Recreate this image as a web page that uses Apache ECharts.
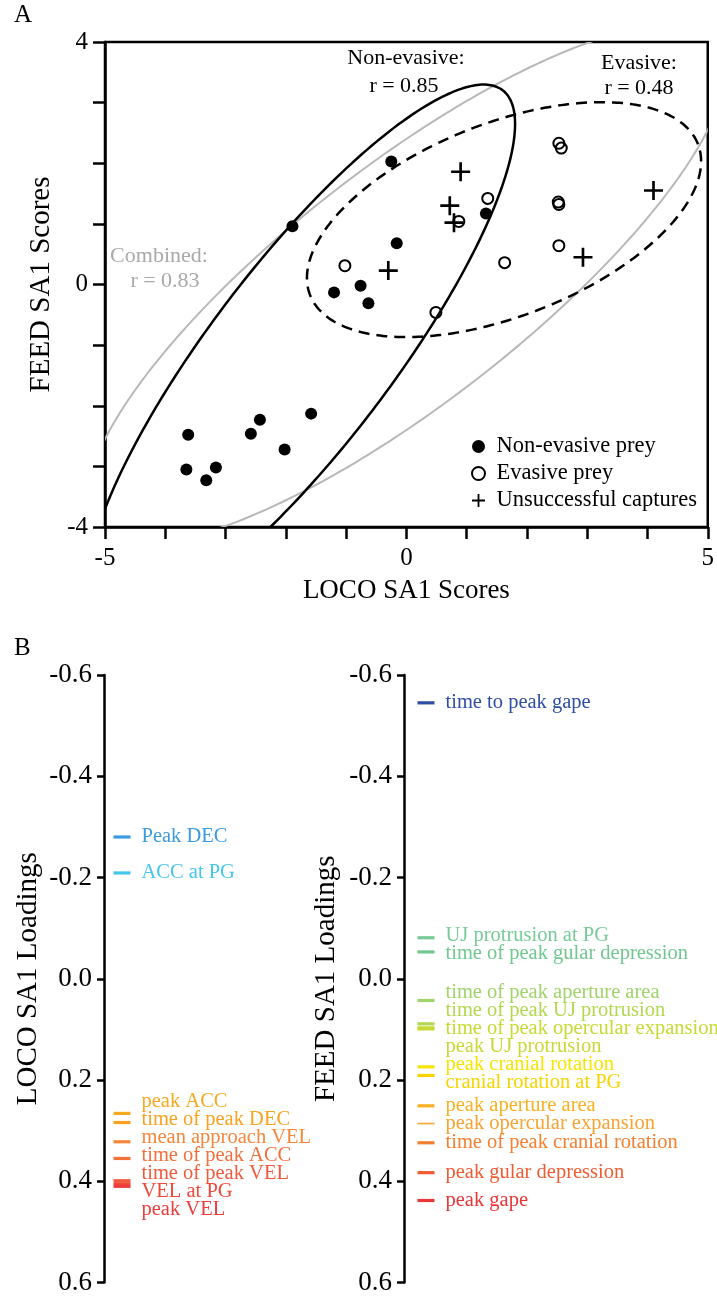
<!DOCTYPE html>
<html>
<head>
<meta charset="utf-8">
<script src="https://cdn.jsdelivr.net/npm/echarts@6/dist/echarts.min.js"></script>
<style>
  html, body { margin: 0; padding: 0; background: #fff; }
  #chart { width: 717px; height: 1296px; }
</style>
</head>
<body>
<div id="chart"></div>
<script>
// ---- Panel A: SA1 scores (LOCO vs FEED) ----
const nonEvasivePrey = [
  [-1.89, 0.96], [-0.25, 2.03], [-0.16, 0.68], [-1.20, -0.13], [-0.76, -0.02],
  [-0.63, -0.31], [-3.62, -2.48], [-3.65, -3.05], [-3.32, -3.23], [-3.16, -3.02],
  [-2.58, -2.46], [-2.43, -2.23], [-2.02, -2.72], [-1.58, -2.13], [1.32, 1.17]
];
const evasivePrey = [
  [-1.02, 0.31], [1.35, 1.42], [0.87, 1.04], [2.53, 2.33], [2.57, 2.25],
  [2.52, 1.36], [2.53, 1.32], [2.53, 0.64], [1.63, 0.36], [0.49, -0.46]
];
const unsuccessfulCaptures = [
  [-0.30, 0.23], [0.72, 1.30], [0.79, 1.02], [0.90, 1.86], [2.93, 0.45], [4.10, 1.55]
];

// Correlation ellipses: [centerX, centerY, semiMajor, semiMinor, angleDeg]
const ellipseCombined   = [0.00, 0.00, 6.52, 1.95, 37.7];
const ellipseNonEvasive = [-1.75, -1.16, 5.50, 1.50, 52.5];
const ellipseEvasive    = [1.62, 1.07, 3.45, 1.594, 21.1];

const scoreTicksX = [-5, 0, 5];
const scoreTicksY = [-4, 0, 4];

// ---- Panel B: SA1 loadings ----
const locoNames = ['Peak DEC', 'ACC at PG', 'peak ACC', 'time of peak DEC', 'mean approach VEL',
  'time of peak ACC', 'time of peak VEL', 'VEL at PG', 'peak VEL'];
const locoLoadings = [-0.280, -0.209, 0.266, 0.284, 0.322, 0.355, 0.399, 0.405, 0.410];

const feedNames = ['time to peak gape', 'UJ protrusion at PG', 'time of peak gular depression',
  'time of peak aperture area', 'time of peak UJ protrusion', 'time of peak opercular expansion',
  'peak UJ protrusion', 'peak cranial rotation', 'cranial rotation at PG', 'peak aperture area',
  'peak opercular expansion', 'time of peak cranial rotation', 'peak gular depression', 'peak gape'];
const feedLoadings = [-0.545, -0.081, -0.053, 0.043, 0.089, 0.097, 0.099, 0.174, 0.191,
  0.251, 0.286, 0.324, 0.383, 0.438];

// colour palettes for the loading labels
const locoColors = ['#3b9be0', '#45c6ef', '#f8a91f', '#f8a21f', '#f6873a', '#f3703b', '#f15a3c', '#ef4939', '#ee3c3c'];
const feedColors = ['#2f4ea3', '#76cb98', '#70c88f', '#a0d36a', '#b3d850', '#c5db33', '#cad836',
  '#f7e400', '#f7d400', '#f8b122', '#f8a232', '#f47f31', '#f15b31', '#ec3535'];

const SERIF = '"Liberation Serif", "Times New Roman", serif';
const PLUS = 'path://M8.6,0h2.8v8.6h8.6v2.8h-8.6v8.6h-2.8v-8.6h-8.6v-2.8h8.6z';

function ellipseSeries(name, params, style) {
  return {
    type: 'custom',
    name: name,
    xAxisIndex: 0,
    yAxisIndex: 0,
    silent: true,
    z: 1,
    data: [params],
    renderItem: function (p, api) {
      const cx = api.value(0), cy = api.value(1), a = api.value(2), b = api.value(3);
      const ang = api.value(4) * Math.PI / 180;
      const pts = [];
      for (let k = 0; k < 360; k++) {
        const t = k * Math.PI / 180;
        const u = a * Math.cos(t), v = b * Math.sin(t);
        pts.push(api.coord([cx + u * Math.cos(ang) - v * Math.sin(ang),
                            cy + u * Math.sin(ang) + v * Math.cos(ang)]));
      }
      const cs = p.coordSys;
      return {
        type: 'group',
        clipPath: { type: 'rect', shape: { x: cs.x, y: cs.y, width: cs.width, height: cs.height } },
        children: [{ type: 'polygon', shape: { points: pts }, style: Object.assign({ fill: 'none' }, style) }]
      };
    }
  };
}

function loadingSeries(idx, names, values, colors, offsetX, labelOffsets) {
  return {
    type: 'scatter',
    xAxisIndex: idx,
    yAxisIndex: idx,
    symbol: 'rect',
    symbolOffset: [offsetX, 0],
    silent: true,
    animation: false,
    itemStyle: { opacity: 1 },
    data: names.map(function (n, i) {
      return {
        name: n,
        value: [0, values[i]],
        symbolSize: n === 'peak opercular expansion' ? [17, 1.6] : [17, 3.2],
        itemStyle: { color: colors[i], opacity: 1 },
        label: { color: colors[i], offset: [0, labelOffsets ? labelOffsets[i] : 0] }
      };
    }),
    label: {
      show: true,
      position: 'right',
      distance: 11,
      formatter: '{b}',
      fontFamily: SERIF,
      fontSize: 20.5,
      lineHeight: 18
    }
  };
}

const axisBlack = { onZero: false, lineStyle: { color: '#000', width: 2.5 } };
const tickFmtScore = function (ticks) {
  return function (v) { return ticks.indexOf(Math.round(v)) >= 0 && Math.abs(v - Math.round(v)) < 1e-9 ? String(Math.round(v)) : ''; };
};
const tickFmtLoad = function (v) { return (Math.abs(v) < 1e-9 ? 0 : v).toFixed(1); };

function buildOption(locoOffsets, feedOffsets) {
  return {
    animation: false,
    backgroundColor: '#fff',
    textStyle: { fontFamily: SERIF },
    grid: [
      { left: 105, top: 42, width: 608, height: 485, show: true, borderColor: '#000', borderWidth: 2.5 },
      { left: 104, top: 675, width: 190, height: 608 },
      { left: 404, top: 675, width: 300, height: 608 }
    ],
    xAxis: [
      {
        gridIndex: 0, type: 'value', min: -5, max: 5, interval: 1,
        axisLine: axisBlack, axisTick: { length: 12, lineStyle: { color: '#000', width: 2.5 } },
        splitLine: { show: false },
        axisLabel: { formatter: tickFmtScore(scoreTicksX), color: '#000', fontSize: 25, fontFamily: SERIF, margin: 19 },
        name: 'LOCO SA1 Scores', nameLocation: 'middle', nameGap: 50,
        nameTextStyle: { color: '#000', fontSize: 27, fontFamily: SERIF }
      },
      { gridIndex: 1, type: 'value', min: 0, max: 1, show: false },
      { gridIndex: 2, type: 'value', min: 0, max: 1, show: false }
    ],
    yAxis: [
      {
        gridIndex: 0, type: 'value', min: -4, max: 4, interval: 1,
        axisLine: axisBlack, axisTick: { length: 12, lineStyle: { color: '#000', width: 2.5 } },
        splitLine: { show: false },
        axisLabel: { formatter: tickFmtScore(scoreTicksY), color: '#000', fontSize: 25, fontFamily: SERIF, margin: 17 },
        name: 'FEED SA1 Scores', nameLocation: 'middle', nameGap: 49,
        nameTextStyle: { color: '#000', fontSize: 29, fontFamily: SERIF }
      },
      {
        gridIndex: 1, type: 'value', inverse: true, min: -0.6, max: 0.6, interval: 0.2,
        axisLine: { show: true, onZero: false, lineStyle: { color: '#000', width: 2.5 } },
        axisTick: { show: true, length: 7, lineStyle: { color: '#000', width: 2.5 } },
        splitLine: { show: false },
        axisLabel: { formatter: tickFmtLoad, color: '#000', fontSize: 27, fontFamily: SERIF, margin: 12 },
        name: 'LOCO SA1 Loadings', nameLocation: 'middle', nameGap: 61,
        nameTextStyle: { color: '#000', fontSize: 29, fontFamily: SERIF }
      },
      {
        gridIndex: 2, type: 'value', inverse: true, min: -0.6, max: 0.6, interval: 0.2,
        axisLine: { show: true, onZero: false, lineStyle: { color: '#000', width: 2.5 } },
        axisTick: { show: true, length: 7, lineStyle: { color: '#000', width: 2.5 } },
        splitLine: { show: false },
        axisLabel: { formatter: tickFmtLoad, color: '#000', fontSize: 27, fontFamily: SERIF, margin: 12 },
        name: 'FEED SA1 Loadings', nameLocation: 'middle', nameGap: 63,
        nameTextStyle: { color: '#000', fontSize: 29, fontFamily: SERIF }
      }
    ],
    legend: {
      data: ['Non-evasive prey', 'Evasive prey', 'Unsuccessful captures'],
      orient: 'vertical', left: 466, top: 430,
      itemWidth: 18, itemHeight: 13, itemGap: 4,
      selectedMode: false,
      textStyle: { color: '#000', fontSize: 22.5, fontFamily: SERIF, padding: [0, 0, 0, 4] }
    },
    graphic: [
      { type: 'text', left: 14, top: 3, style: { text: 'A', font: '25px ' + SERIF, fill: '#000' } },
      { type: 'text', left: 14, top: 636, style: { text: 'B', font: '25px ' + SERIF, fill: '#000' } },
      { type: 'text', x: 406, y: 58, style: { text: 'Non-evasive:', font: '22px ' + SERIF, fill: '#000', align: 'center', verticalAlign: 'middle' } },
      { type: 'text', x: 404, y: 86, style: { text: 'r = 0.85', font: '22px ' + SERIF, fill: '#000', align: 'center', verticalAlign: 'middle' } },
      { type: 'text', x: 639, y: 63, style: { text: 'Evasive:', font: '22px ' + SERIF, fill: '#000', align: 'center', verticalAlign: 'middle' } },
      { type: 'text', x: 639, y: 88, style: { text: 'r = 0.48', font: '22px ' + SERIF, fill: '#000', align: 'center', verticalAlign: 'middle' } },
      { type: 'text', x: 159, y: 256, style: { text: 'Combined:', font: '22px ' + SERIF, fill: '#a9a9a9', align: 'center', verticalAlign: 'middle' } },
      { type: 'text', x: 165, y: 281, style: { text: 'r = 0.83', font: '22px ' + SERIF, fill: '#a9a9a9', align: 'center', verticalAlign: 'middle' } }
    ],
    series: [
      ellipseSeries('Combined', ellipseCombined, { stroke: '#b8b8b8', lineWidth: 2 }),
      ellipseSeries('Non-evasive', ellipseNonEvasive, { stroke: '#000', lineWidth: 2.5 }),
      ellipseSeries('Evasive', ellipseEvasive, { stroke: '#000', lineWidth: 2.5, lineDash: [11, 7] }),
      {
        type: 'scatter', name: 'Non-evasive prey', xAxisIndex: 0, yAxisIndex: 0, z: 3,
        data: nonEvasivePrey, symbol: 'circle', symbolSize: 12,
        itemStyle: { color: '#000', opacity: 1 }
      },
      {
        type: 'scatter', name: 'Evasive prey', xAxisIndex: 0, yAxisIndex: 0, z: 3,
        data: evasivePrey, symbol: 'circle', symbolSize: 11,
        itemStyle: { color: 'rgba(255,255,255,0)', borderColor: '#000', borderWidth: 2, opacity: 1 }
      },
      {
        type: 'scatter', name: 'Unsuccessful captures', xAxisIndex: 0, yAxisIndex: 0, z: 3,
        data: unsuccessfulCaptures, symbol: PLUS, symbolSize: 19,
        itemStyle: { color: '#000', opacity: 1 }
      },
      loadingSeries(1, locoNames, locoLoadings, locoColors, 18, locoOffsets),
      loadingSeries(2, feedNames, feedLoadings, feedColors, 22, feedOffsets)
    ]
  };
}

// Spread crowded labels: overlapping neighbours form a group centred on its marks.
function spreadLabels(ys, gap) {
  const items = ys.map(function (y, i) { return { i: i, y: y }; }).sort(function (p, q) { return p.y - q.y; });
  let groups = items.map(function (it) { return { members: [it], mean: it.y }; });
  let merged = true;
  while (merged) {
    merged = false;
    for (let g = 0; g < groups.length - 1; g++) {
      const A = groups[g], B = groups[g + 1];
      const aEnd = A.mean + (A.members.length - 1) * gap / 2;
      const bStart = B.mean - (B.members.length - 1) * gap / 2;
      if (bStart - aEnd < gap) {
        const members = A.members.concat(B.members);
        const mean = members.reduce(function (s, m) { return s + m.y; }, 0) / members.length;
        groups.splice(g, 2, { members: members, mean: mean });
        merged = true;
        break;
      }
    }
  }
  const out = new Array(ys.length);
  groups.forEach(function (g) {
    g.members.forEach(function (m, k) { out[m.i] = g.mean + (k - (g.members.length - 1) / 2) * gap - m.y; });
  });
  return out;
}

const chart = echarts.init(document.getElementById('chart'), null, { renderer: 'canvas' });
chart.setOption(buildOption(null, null));

const locoPix = locoLoadings.map(function (v) { return chart.convertToPixel({ gridIndex: 1 }, [0, v])[1]; });
const feedPix = feedLoadings.map(function (v) { return chart.convertToPixel({ gridIndex: 2 }, [0, v])[1]; });
chart.setOption(buildOption(spreadLabels(locoPix, 18), spreadLabels(feedPix, 18)), true);
</script>
</body>
</html>
